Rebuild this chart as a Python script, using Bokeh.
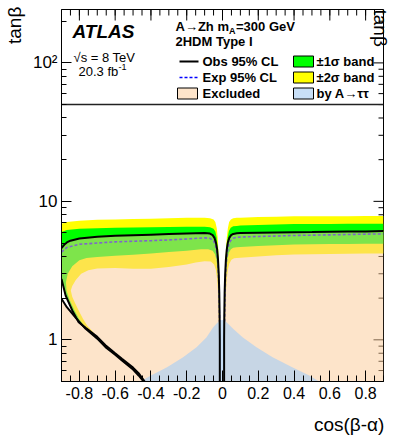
import math
import numpy as np
from bokeh.plotting import figure
from bokeh.models import FixedTicker, LogAxis, Range1d
from bokeh.core.properties import value
from bokeh.embed import file_html
from bokeh.resources import INLINE

# ---------------- data ----------------
# x = cos(beta-alpha), y = tan(beta)
# left of the dip (x < 0)
y2u_L_x = [-0.9, -0.87, -0.8, -0.7, -0.6, -0.5, -0.4, -0.3, -0.2, -0.1, -0.07, -0.05, -0.04, -0.032, -0.027, -0.023, -0.02, -0.018, -0.0165]
y2u_L_y = [6.9, 7.1, 7.25, 7.35, 7.4, 7.45, 7.5, 7.55, 7.6, 7.6, 7.55, 7.4, 7.1, 6.4, 5.5, 4.4, 3.2, 2.2, 1.3]
g1u_L_x = [-0.9, -0.87, -0.8, -0.7, -0.6, -0.5, -0.4, -0.3, -0.2, -0.1, -0.07, -0.05, -0.04, -0.033, -0.028, -0.024, -0.021, -0.019, -0.0168]
g1u_L_y = [6.0, 6.2, 6.35, 6.4, 6.45, 6.48, 6.5, 6.52, 6.55, 6.55, 6.5, 6.35, 6.05, 5.5, 4.8, 4.0, 3.0, 2.1, 1.3]
obs_L_x = [-0.9, -0.885, -0.87, -0.85, -0.8, -0.7, -0.6, -0.5, -0.4, -0.3, -0.2, -0.1, -0.07, -0.055, -0.045, -0.037, -0.03, -0.025, -0.021, -0.018, -0.016, -0.015, -0.015]
obs_L_y = [4.6, 4.85, 5.05, 5.2, 5.4, 5.55, 5.65, 5.7, 5.75, 5.8, 5.85, 5.9, 5.85, 5.7, 5.45, 5.05, 4.5, 3.8, 3.0, 2.2, 1.5, 1.0, 0.5]
exp_L_x = [-0.9, -0.87, -0.8, -0.7, -0.6, -0.5, -0.4, -0.3, -0.2, -0.1, -0.07, -0.05, -0.04, -0.032, -0.026, -0.022, -0.019, -0.017]
exp_L_y = [4.3, 4.65, 4.9, 5.0, 5.1, 5.15, 5.2, 5.27, 5.35, 5.45, 5.4, 5.2, 4.85, 4.3, 3.6, 2.8, 2.0, 1.35]
g1d_L_x = [-0.019, -0.021, -0.024, -0.028, -0.034, -0.042, -0.055, -0.08, -0.12, -0.2, -0.3, -0.4, -0.5, -0.6, -0.7, -0.76, -0.8, -0.84, -0.865, -0.875, -0.872, -0.855, -0.827, -0.8, -0.77, -0.745, -0.72]
g1d_L_y = [1.3, 2.0, 2.7, 3.3, 3.8, 4.15, 4.4, 4.5, 4.5, 4.4, 4.3, 4.2, 4.12, 4.05, 3.97, 3.9, 3.75, 3.4, 3.0, 2.6, 2.27, 1.95, 1.63, 1.4, 1.25, 1.16, 1.08]
y2d_L_x = [-0.021, -0.023, -0.026, -0.03, -0.037, -0.047, -0.065, -0.1, -0.15, -0.2, -0.3, -0.4, -0.5, -0.6, -0.7, -0.75, -0.79, -0.82, -0.84, -0.848, -0.84, -0.825, -0.804, -0.78, -0.755, -0.737, -0.715]
y2d_L_y = [1.3, 1.8, 2.3, 2.75, 3.2, 3.5, 3.68, 3.7, 3.62, 3.5, 3.35, 3.26, 3.26, 3.3, 3.27, 3.18, 3.0, 2.7, 2.45, 2.27, 2.05, 1.85, 1.63, 1.42, 1.26, 1.19, 1.1]
# second observed contour on the left (upper branch) and the lowest observed contour
br_x = [-0.9, -0.877, -0.84, -0.804, -0.765, -0.7, -0.654, -0.6, -0.562, -0.5, -0.469, -0.435]
br_y = [2.75, 2.09, 1.63, 1.34, 1.22, 1.05, 0.915, 0.8, 0.73, 0.63, 0.575, 0.5]
low_x = [-0.9, -0.87, -0.82, -0.765, -0.7, -0.654, -0.6, -0.562, -0.5, -0.469, -0.441]
low_y = [1.98, 1.72, 1.44, 1.2, 1.02, 0.885, 0.78, 0.71, 0.61, 0.553, 0.5]
# right of the dip (x > 0)
y2u_R_x = [0.0125, 0.013, 0.015, 0.019, 0.024, 0.03, 0.037, 0.047, 0.06, 0.08, 0.1, 0.2, 0.3, 0.4, 0.5, 0.6, 0.7, 0.8, 0.9]
y2u_R_y = [1.3, 2.2, 3.2, 4.4, 5.5, 6.4, 7.1, 7.4, 7.55, 7.6, 7.62, 7.7, 7.75, 7.8, 7.8, 7.8, 7.82, 7.85, 7.85]
g1u_R_x = [0.012, 0.0125, 0.014, 0.018, 0.023, 0.029, 0.036, 0.046, 0.06, 0.08, 0.1, 0.2, 0.3, 0.4, 0.5, 0.6, 0.7, 0.8, 0.9]
g1u_R_y = [1.3, 2.1, 3.0, 4.0, 4.8, 5.5, 6.1, 6.45, 6.6, 6.65, 6.68, 6.75, 6.8, 6.85, 6.85, 6.87, 6.88, 6.9, 6.9]
obs_R_x = [0.009, 0.009, 0.01, 0.012, 0.015, 0.019, 0.024, 0.03, 0.038, 0.048, 0.06, 0.08, 0.1, 0.2, 0.3, 0.4, 0.5, 0.6, 0.7, 0.8, 0.9]
obs_R_y = [0.5, 1.0, 1.5, 2.2, 3.0, 3.8, 4.5, 5.05, 5.45, 5.7, 5.82, 5.88, 5.9, 5.93, 5.96, 5.98, 6.0, 6.03, 6.05, 6.07, 6.1]
exp_R_x = [0.012, 0.014, 0.017, 0.021, 0.027, 0.035, 0.045, 0.06, 0.08, 0.1, 0.2, 0.3, 0.4, 0.5, 0.6, 0.7, 0.8, 0.9]
exp_R_y = [1.35, 2.0, 2.8, 3.6, 4.3, 4.85, 5.2, 5.42, 5.5, 5.52, 5.58, 5.62, 5.67, 5.7, 5.73, 5.76, 5.8, 5.82]
g1d_R_x = [0.013, 0.015, 0.018, 0.022, 0.028, 0.036, 0.047, 0.06, 0.08, 0.1, 0.2, 0.3, 0.4, 0.5, 0.6, 0.7, 0.8, 0.9]
g1d_R_y = [1.3, 2.0, 2.7, 3.3, 3.85, 4.25, 4.5, 4.62, 4.66, 4.68, 4.75, 4.82, 4.88, 4.9, 4.92, 4.93, 4.95, 4.95]
y2d_R_x = [0.015, 0.017, 0.02, 0.024, 0.03, 0.038, 0.05, 0.065, 0.08, 0.1, 0.2, 0.3, 0.4, 0.5, 0.6, 0.7, 0.8, 0.9]
y2d_R_y = [1.3, 1.8, 2.3, 2.75, 3.2, 3.55, 3.78, 3.88, 3.9, 3.92, 4.0, 4.08, 4.13, 4.15, 4.17, 4.18, 4.2, 4.2]
# region excluded by A -> tautau
tau_x = [-0.46, -0.40, -0.31, -0.22, -0.145, -0.09, -0.052, -0.03, -0.015, 0.0, 0.012, 0.03, 0.059, 0.114, 0.19, 0.28, 0.39, 0.485, 0.54]
tau_y = [0.5, 0.553, 0.634, 0.749, 0.884, 1.04, 1.23, 1.32, 1.38, 1.39, 1.38, 1.31, 1.2, 1.04, 0.884, 0.749, 0.634, 0.553, 0.5]

x_major = [-0.8, -0.6, -0.4, -0.2, 0.0, 0.2, 0.4, 0.6, 0.8]
x_labels = ["-0.8", "-0.6", "-0.4", "-0.2", "0", "0.2", "0.4", "0.6", "0.8"]
x_minor = [round(-0.9 + 0.05 * i, 2) for i in range(37)]
y_major = [1, 10, 100]
y_labels = ["1", "10", "10\u00b2"]
y_minor = [0.5, 0.6, 0.7, 0.8, 0.9, 2, 3, 4, 5, 6, 7, 8, 9, 20, 30, 40, 50, 60, 70, 80, 90, 200]
legend_floor = 50
x_title = "cos(\u03b2-\u03b1)"
y_title = "tan\u03b2"

# ---------------- layout ----------------
FONT = "Liberation Sans"
X0, X1 = -0.9, 0.9
Y0, Y1 = 0.5, 243.0
FL, FT, FW, FH = 61, 9, 322, 372   # frame position on page (px)
CW, CH = 402, 440
NBSP = "\u00a0"

YELLOW = "#ffff00"
GREEN = "#00ff00"
PEACH = (251, 201, 149)
BLUE = (171, 206, 242)

p = figure(frame_width=FW, frame_height=FH,
           min_border_left=FL, min_border_top=FT,
           min_border_right=CW - FW - FL, min_border_bottom=CH - FH - FT,
           x_range=Range1d(X0, X1), y_range=Range1d(Y0, Y1), y_axis_type="log",
           output_backend="svg", toolbar_location=None)
p.xgrid.visible = False
p.ygrid.visible = False
p.outline_line_color = "black"
p.outline_line_width = 1
p.background_fill_color = "white"
p.border_fill_color = "white"


def style_axis(ax, ticker, overrides, tin, tmin, size):
    ax.ticker = ticker
    ax.major_tick_in = tin
    ax.major_tick_out = 0
    ax.minor_tick_in = tmin
    ax.minor_tick_out = 0
    ax.axis_line_color = "black"
    ax.major_tick_line_color = "black"
    ax.minor_tick_line_color = "black"
    ax.major_label_text_font = FONT
    ax.major_label_text_color = "black"
    ax.major_label_text_font_size = size
    ax.major_label_standoff = 5
    ax.major_label_overrides = overrides


def axis_title(ax, text, size, standoff):
    # the title is centred on the axis end, so it is padded with no-break
    # spaces to push its visible part back inside the axis span
    ax.axis_label = text
    ax.axis_label_text_font = FONT
    ax.axis_label_text_font_style = "normal"
    ax.axis_label_text_font_size = size
    ax.axis_label_text_color = "black"
    ax.axis_label_standoff = standoff
    if "axis_label_align" in ax.properties():
        ax.axis_label_align = "end"


xax = p.xaxis[0]
yax = p.yaxis[0]
style_axis(xax, FixedTicker(ticks=x_major, minor_ticks=x_minor), dict(zip(x_major, x_labels)), 11, 6, "16px")
style_axis(yax, FixedTicker(ticks=y_major, minor_ticks=y_minor), dict(zip(y_major, y_labels)), 10, 5, "17px")
yax.major_label_standoff = 4
axis_title(xax, x_title + NBSP * 13, "19px", 12)
axis_title(yax, y_title + NBSP * 6, "19px", 5)

# right-hand axis: only carries the repeated title (reading upwards)
rax = LogAxis(ticker=FixedTicker(ticks=[], minor_ticks=[]))
rax.axis_line_color = None
rax.major_label_standoff = 0
axis_title(rax, y_title + NBSP * 6, "19px", -3)
rax.axis_label_orientation = -math.pi / 2
p.add_layout(rax, "right")


# ---------------- helpers: page pixel -> data ----------------
def dx(px):
    return float(X0 + (px - FL) / FW * (X1 - X0))


def dy(py):
    l0, l1 = np.log10(Y0), np.log10(Y1)
    return float(10 ** (l0 + (FT + FH - py) / FH * (l1 - l0)))


# mirror ticks on the top and right frame edges (same tick values as the axes)
top_len = dy(FT + 11)
top_len_m = dy(FT + 6)
p.segment(x0=x_major, y0=[Y1] * len(x_major), x1=x_major, y1=[top_len] * len(x_major), line_color="black", line_width=1)
p.segment(x0=x_minor, y0=[Y1] * len(x_minor), x1=x_minor, y1=[top_len_m] * len(x_minor), line_color="black", line_width=1)
r_len = dx(FL + FW - 10)
r_len_m = dx(FL + FW - 5)
p.segment(x0=[X1] * len(y_major), y0=y_major, x1=[r_len] * len(y_major), y1=y_major, line_color="black", line_width=1)
p.segment(x0=[X1] * len(y_minor), y0=y_minor, x1=[r_len_m] * len(y_minor), y1=y_minor, line_color="black", line_width=1)

# ---------------- bands ----------------
cut = y2d_L_x[-1]
br_back_x = [x for x in br_x[::-1] if x < cut]
br_back_y = [y for x, y in zip(br_x[::-1], br_y[::-1]) if x < cut]
p.patch(y2u_L_x + y2d_L_x + br_back_x, y2u_L_y + y2d_L_y + br_back_y, fill_color=YELLOW, line_color=None)
p.patch(y2u_R_x + y2d_R_x[::-1], y2u_R_y + y2d_R_y[::-1], fill_color=YELLOW, line_color=None)
cut = g1d_L_x[-1]
br_back_x = [x for x in br_x[::-1] if x < cut]
br_back_y = [y for x, y in zip(br_x[::-1], br_y[::-1]) if x < cut]
p.patch(g1u_L_x + g1d_L_x + br_back_x, g1u_L_y + g1d_L_y + br_back_y, fill_color=GREEN, line_color=None)
p.patch(g1u_R_x + g1d_R_x[::-1], g1u_R_y + g1d_R_y[::-1], fill_color=GREEN, line_color=None)

# expected
for xs, ys in ((exp_L_x, exp_L_y), (exp_R_x, exp_R_y)):
    p.line(xs, ys, line_color="#0000ff", line_width=1.6, line_dash="3 2")

# excluded (translucent, on top of the bands)
p.patch(obs_L_x + br_x[::-1], obs_L_y + br_y[::-1], fill_color=PEACH, fill_alpha=0.5, line_color=None)
p.patch(low_x + [X0], low_y + [Y0], fill_color=PEACH, fill_alpha=0.5, line_color=None)
p.patch(obs_R_x + [X1], obs_R_y + [Y0], fill_color=PEACH, fill_alpha=0.5, line_color=None)

# A -> tautau
p.patch(tau_x, tau_y, fill_color=BLUE, fill_alpha=0.65, line_color=None)

# observed
for xs, ys in ((obs_L_x, obs_L_y), (obs_R_x, obs_R_y), (br_x, br_y), (low_x, low_y)):
    p.line(xs, ys, line_color="black", line_width=2)

# legend floor line
p.line([X0, X1], [legend_floor, legend_floor], line_color="#222222", line_width=1.6)


# ---------------- legend & texts ----------------
def txt(text, px, py, size, style="normal", align="left"):
    p.text(x=[dx(px)], y=[dy(py)], text=[text], text_font=value(FONT),
           text_font_size=value(f"{size}px"), text_font_style=style,
           text_align=align, text_baseline="middle", text_color="black")


txt("ATLAS", 72, 31, 19, "bold italic")
txt("A\u2192Zh m", 175, 26, 13, "bold")
txt("A", 228.5, 30, 9, "bold")
txt("=300 GeV", 235.5, 26, 13, "bold")
txt("2HDM Type I", 175, 41, 13, "bold")
txt("\u221as = 8 TeV", 73, 57, 13)
txt("20.3 fb", 78, 71, 13)
txt("-1", 118, 66, 9)

rows = [61, 77, 93]
p.line([dx(179), dx(198)], [dy(rows[0])] * 2, line_color="black", line_width=2)
p.line([dx(179), dx(198)], [dy(rows[1])] * 2, line_color="#0000ff", line_width=1.3, line_dash="3 2")
p.quad(left=dx(177), right=dx(197), top=dy(rows[2] - 5.5), bottom=dy(rows[2] + 5.5),
       fill_color=PEACH, fill_alpha=0.5, line_color="black", line_width=1)
txt("Obs 95% CL", 202, rows[0], 13, "bold")
txt("Exp 95% CL", 202, rows[1], 13, "bold")
txt("Excluded", 202, rows[2], 13, "bold")

p.quad(left=dx(293), right=dx(313), top=dy(rows[0] - 5.5), bottom=dy(rows[0] + 5.5),
       fill_color=GREEN, line_color="black", line_width=1)
p.quad(left=dx(293), right=dx(313), top=dy(rows[1] - 5.5), bottom=dy(rows[1] + 5.5),
       fill_color=YELLOW, line_color="black", line_width=1)
p.quad(left=dx(293), right=dx(313), top=dy(rows[2] - 5.5), bottom=dy(rows[2] + 5.5),
       fill_color=BLUE, fill_alpha=0.65, line_color="black", line_width=1)
txt("\u00b11\u03c3 band", 316, rows[0], 13, "bold")
txt("\u00b12\u03c3 band", 316, rows[1], 13, "bold")
txt("by A\u2192\u03c4\u03c4", 316, rows[2], 13, "bold")

open("out.html", "w").write(file_html(p, INLINE))
